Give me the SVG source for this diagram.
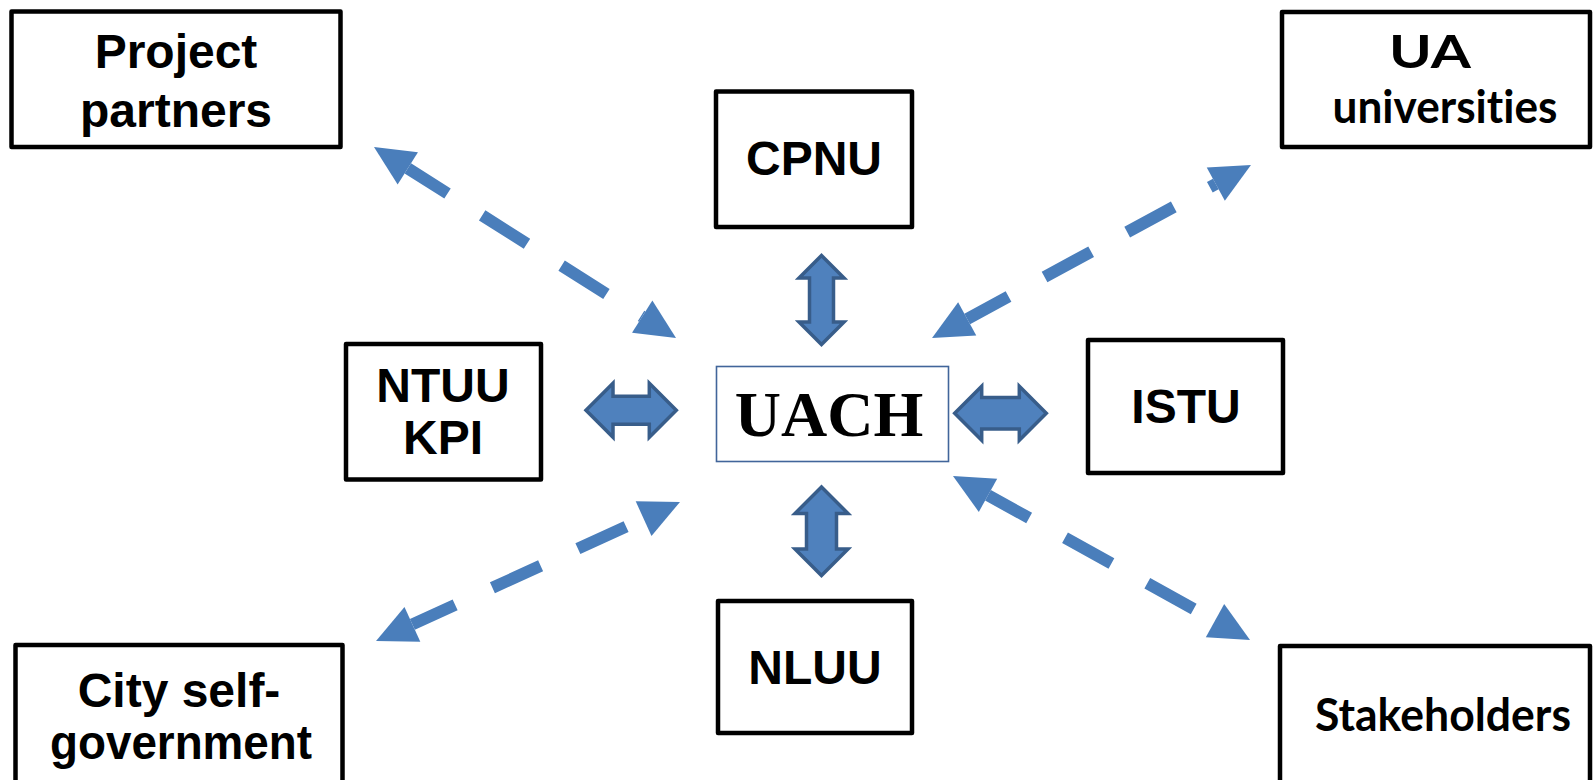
<svg xmlns="http://www.w3.org/2000/svg" width="1594" height="780" viewBox="0 0 1594 780">
<defs>
<style>
.box{fill:#fff;stroke:#000;stroke-width:4.5;stroke-linejoin:round}
.t{font-family:"Liberation Sans",Arial,sans-serif;font-weight:bold;font-size:48px;fill:#000;text-anchor:middle}
.c{font-family:Lato,"Open Sans",sans-serif;font-weight:bold;font-size:46px;fill:#000;text-anchor:middle;font-variant-ligatures:none}
.dash{fill:none;stroke:#4a7ebb;stroke-width:12;stroke-dasharray:53 41;stroke-dashoffset:6;marker-start:url(#ah);marker-end:url(#ah)}
.blk{fill:#4f81bd;stroke:#385d8a;stroke-width:3.5;stroke-linejoin:miter}
</style>
<marker id="ah" markerUnits="userSpaceOnUse" markerWidth="40" markerHeight="38" refX="0" refY="19" orient="auto-start-reverse" overflow="visible">
<path d="M0,0 L40,19 L0,38 z" fill="#4a7ebb"/>
</marker>
</defs>
<rect width="1594" height="780" fill="#fff"/>
<g id="connectors">
<line class="dash" x1="407.8" y1="168.4" x2="642.2" y2="316.6"/>
<line class="dash" x1="967.2" y1="318.9" x2="1215.8" y2="184.1"/>
<line class="dash" x1="412.4" y1="624.4" x2="643.6" y2="518.6"/>
<line class="dash" x1="988" y1="495.3" x2="1215" y2="620.7"/>
<path class="blk" d="M821.5,255.5 L844,278 L833.5,278 L833.5,322 L844,322 L821.5,344.5 L799,322 L809.5,322 L809.5,278 L799,278 Z"/>
<path class="blk" d="M821.5,487 L848,513.5 L836.5,513.5 L836.5,549 L848,549 L821.5,575.5 L795,549 L806.5,549 L806.5,513.5 L795,513.5 Z"/>
<path class="blk" d="M586,410.3 L613,383.3 L613,396.3 L649.3,396.3 L649.3,383.3 L676.3,410.3 L649.3,437.3 L649.3,424.3 L613,424.3 L613,437.3 Z"/>
<path class="blk" d="M954.7,413.3 L981.7,386.3 L981.7,397.6 L1019.3,397.6 L1019.3,386.3 L1046.3,413.3 L1019.3,440.3 L1019.3,429 L981.7,429 L981.7,440.3 Z"/>
</g>
<g id="project-partners">
<rect class="box" x="11.5" y="11.5" width="329" height="135.5"/>
<text class="t" x="176" y="68">Project</text>
<text class="t" x="176" y="127">partners</text>
</g>
<g id="ua-universities">
<rect class="box" x="1282" y="12" width="308" height="135"/>
<text class="c" x="1430" y="68" textLength="82" lengthAdjust="spacingAndGlyphs">UA</text>
<text class="c" x="1445" y="123" textLength="225" lengthAdjust="spacingAndGlyphs">universities</text>
</g>
<g id="cpnu">
<rect class="box" x="716" y="91.5" width="196" height="135.5"/>
<text class="t" x="814" y="175">CPNU</text>
</g>
<g id="ntuu-kpi">
<rect class="box" x="346" y="344" width="195" height="135.5"/>
<text class="t" x="443" y="402">NTUU</text>
<text class="t" x="443" y="454">KPI</text>
</g>
<g id="uach">
<rect x="716.5" y="366.5" width="232" height="95" fill="#fff" stroke="#41659a" stroke-width="1.6"/>
<text x="829" y="436" font-family="'Liberation Serif','Times New Roman',serif" font-weight="bold" font-size="64" text-anchor="middle" fill="#000">UACH</text>
</g>
<g id="istu">
<rect class="box" x="1088" y="340" width="195" height="133"/>
<text class="t" x="1186" y="423">ISTU</text>
</g>
<g id="nluu">
<rect class="box" x="718" y="601" width="194" height="132"/>
<text class="t" x="815" y="684">NLUU</text>
</g>
<g id="city-self-government">
<rect class="box" x="15.5" y="645" width="327" height="200"/>
<text class="t" x="179" y="707">City self-</text>
<text class="t" x="181" y="759" textLength="262" lengthAdjust="spacingAndGlyphs">government</text>
</g>
<g id="stakeholders">
<rect class="box" x="1280" y="646" width="310" height="200"/>
<text class="c" x="1443" y="731" textLength="256" lengthAdjust="spacingAndGlyphs">Stakeholders</text>
</g>
</svg>
